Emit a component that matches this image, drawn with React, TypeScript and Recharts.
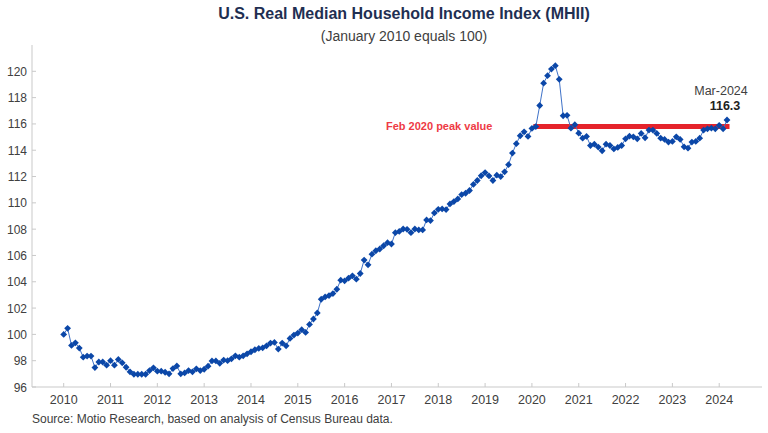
import React from 'react';
import { LineChart, Line, XAxis, YAxis } from 'recharts';

// Monthly MHII values (January 2010 = 100), read month by month
const mhii2010 = [100.0, 100.46, 99.16, 99.36, 98.96, 98.27, 98.35, 98.35, 97.48, 97.9, 97.9, 97.66];
const mhii2011 = [98.0, 97.66, 98.1, 97.84, 97.5, 97.15, 96.97, 96.97, 96.97, 96.97, 97.25, 97.46];
const mhii2012 = [97.2, 97.2, 97.12, 97.0, 97.4, 97.6, 97.0, 97.07, 97.25, 97.15, 97.38, 97.25];
const mhii2013 = [97.35, 97.58, 97.98, 97.98, 97.8, 98.05, 98.0, 98.14, 98.37, 98.27, 98.37, 98.52];
const mhii2014 = [98.68, 98.83, 98.93, 98.98, 99.13, 99.34, 99.39, 98.88, 99.34, 99.13, 99.69, 99.95];
const mhii2015 = [100.1, 100.36, 100.15, 100.76, 101.17, 101.63, 102.67, 102.85, 102.95, 103.1, 103.43, 104.12];
const mhii2016 = [104.07, 104.27, 104.45, 104.2, 104.63, 105.65, 105.29, 106.1, 106.36, 106.49, 106.74, 106.97];
const mhii2017 = [106.87, 107.73, 107.83, 108.01, 107.99, 107.73, 108.01, 107.94, 107.94, 108.7, 108.65, 109.23];
const mhii2018 = [109.51, 109.54, 109.49, 109.92, 110.1, 110.3, 110.63, 110.73, 110.94, 111.4, 111.7, 112.06];
const mhii2019 = [112.3, 112.05, 111.7, 112.1, 112.0, 112.36, 112.9, 113.78, 114.5, 115.1, 115.4, 115.05];
const mhii2020 = [115.66, 115.8, 117.4, 119.1, 119.67, 120.17, 120.43, 119.39, 116.62, 116.65, 115.68, 115.94];
const mhii2021 = [115.3, 114.92, 115.05, 114.36, 114.46, 114.24, 113.96, 114.46, 114.36, 114.1, 114.21, 114.36];
const mhii2022 = [114.87, 115.07, 115.02, 114.87, 115.28, 114.95, 115.53, 115.53, 115.28, 114.92, 114.82, 114.62];
const mhii2023 = [114.67, 115.02, 114.82, 114.26, 114.16, 114.62, 114.67, 114.92, 115.53, 115.63, 115.68, 115.63];
const mhii2024 = [115.89, 115.63, 116.3];

const monthly = [
  ...mhii2010, ...mhii2011, ...mhii2012, ...mhii2013, ...mhii2014,
  ...mhii2015, ...mhii2016, ...mhii2017, ...mhii2018, ...mhii2019,
  ...mhii2020, ...mhii2021, ...mhii2022, ...mhii2023, ...mhii2024,
];

const startYear = 2010;
const yearTicks = [2010, 2011, 2012, 2013, 2014, 2015, 2016, 2017, 2018, 2019, 2020, 2021, 2022, 2023, 2024];
const valueTicks = [96, 98, 100, 102, 104, 106, 108, 110, 112, 114, 116, 118, 120];
const peakIndex = 121; // Feb 2020

const rows = monthly.map((v, i) => ({ t: startYear + i / 12, mhii: v }));
const lastIndex = rows.length - 1;
const peakRows = [
  { t: rows[peakIndex].t, peak: monthly[peakIndex] },
  { t: rows[lastIndex].t, peak: monthly[peakIndex] },
];

const PLOT_LEFT = 32;
const PLOT_BOTTOM = 387;
const AXIS_GRAY = '#c9c9c9';
const TEXT_GRAY = '#404040';
const FONT = "'Liberation Sans', Arial, sans-serif";

const Diamond = (props: any) => {
  const { cx, cy } = props;
  if (cx == null || cy == null) return null;
  const r = 3.4;
  return (
    <path
      d={`M${cx},${cy - r}L${cx + r},${cy}L${cx},${cy + r}L${cx - r},${cy}Z`}
      fill="#0b47a8"
    />
  );
};

const XTick = (props: any) => {
  const { x, payload } = props;
  return (
    <g>
      <line x1={x} x2={x} y1={PLOT_BOTTOM} y2={PLOT_BOTTOM - 4} stroke={AXIS_GRAY} />
      <text x={x} y={PLOT_BOTTOM + 16.5} textAnchor="middle" fontSize={12.5} fill={TEXT_GRAY} fontFamily={FONT}>
        {payload.value}
      </text>
    </g>
  );
};

const YTick = (props: any) => {
  const { y, payload } = props;
  return (
    <g>
      <line x1={PLOT_LEFT} x2={PLOT_LEFT + 4} y1={y} y2={y} stroke={AXIS_GRAY} />
      <text x={PLOT_LEFT - 5} y={y + 4.5} textAnchor="end" fontSize={12} fill={TEXT_GRAY} fontFamily={FONT}>
        {payload.value}
      </text>
    </g>
  );
};

export default function App() {
  return (
    <div style={{ position: 'relative', width: 768, height: 433, background: '#fff', fontFamily: FONT }}>
      <style>{'body{margin:0;}'}</style>
      <div style={{ position: 'absolute', left: 0, width: 768, top: 5, textAlign: 'center', paddingLeft: 40, boxSizing: 'border-box', fontSize: 16, fontWeight: 700, color: '#1f2f52' }}>
        U.S. Real Median Household Income Index (MHII)
      </div>
      <div style={{ position: 'absolute', left: 0, width: 768, top: 28, textAlign: 'center', paddingLeft: 40, boxSizing: 'border-box', fontSize: 14, color: TEXT_GRAY }}>
        (January 2010 equals 100)
      </div>
      <LineChart width={768} height={433} margin={{ top: 45, right: 6, bottom: 0, left: 0 }}>
        <XAxis
          dataKey="t"
          type="number"
          domain={[2009.323, 2024.914]}
          ticks={yearTicks}
          allowDataOverflow
          height={46}
          stroke={AXIS_GRAY}
          tickLine={false}
          tick={<XTick />}
        />
        <YAxis
          type="number"
          domain={[96, 122]}
          ticks={valueTicks}
          allowDataOverflow
          width={32}
          stroke={AXIS_GRAY}
          tickLine={false}
          tick={<YTick />}
        />
        <Line
          data={peakRows}
          dataKey="peak"
          stroke="#e5232b"
          strokeWidth={5}
          strokeLinecap="square"
          dot={false}
          isAnimationActive={false}
        />
        <Line
          data={rows}
          dataKey="mhii"
          stroke="#3f72c8"
          strokeWidth={1}
          dot={(p: any) => <Diamond key={`d-${p.index}`} {...p} />}
          isAnimationActive={false}
        />
      </LineChart>
      <div style={{ position: 'absolute', left: 386, top: 120, fontSize: 11, fontWeight: 700, color: '#ee3b45' }}>
        Feb 2020 peak value
      </div>
      <div style={{ position: 'absolute', left: 680, width: 82, top: 84, textAlign: 'center', fontSize: 12.5, color: TEXT_GRAY }}>
        Mar-2024
      </div>
      <div style={{ position: 'absolute', left: 684, width: 82, top: 99, textAlign: 'center', fontSize: 12.5, fontWeight: 700, color: '#222' }}>
        116.3
      </div>
      <div style={{ position: 'absolute', left: 32, top: 412, fontSize: 12, color: TEXT_GRAY }}>
        Source: Motio Research, based on analysis of Census Bureau data.
      </div>
    </div>
  );
}
